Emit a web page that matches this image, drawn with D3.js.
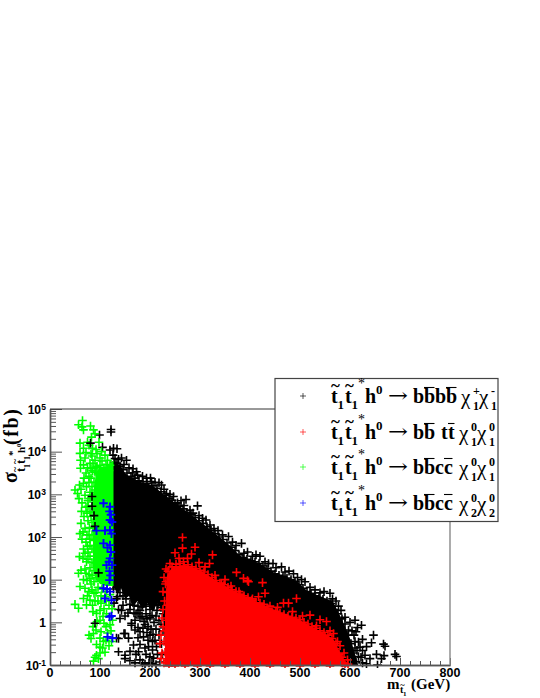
<!DOCTYPE html>
<html><head><meta charset="utf-8">
<script src="https://cdn.jsdelivr.net/npm/d3@7"></script>
<style>html,body{margin:0;background:#fff}svg{display:block}</style></head>
<body><svg id="c" width="540" height="698"></svg>
<script>
// Values: mass in GeV, sigma as log10(fb).
const xTicksMajor=[0,100,200,300,400,500,600,700,800];
const xTicksMinor=[20,40,60,80,120,140,160,180,220,240,260,280,320,340,360,380,420,440,460,480,520,540,560,580,620,640,660,680,720,740,760,780];
const yDecades=[-1,0,1,2,3,4,5];
const yMultipliers=[2,3,4,5,6,7,8,9];

// Regions too dense to separate individual marks: [mass, upper, lower]
const blackCore=[[124,3.75,0.95],[135,3.72,0.65],[142,3.66,0.8],[150,3.5,0.55],[158,3.42,0.62],[165,3.38,0.35],[175,3.32,0.5],[185,3.28,0.3],[195,3.26,0.45],[205,3.2,0.25],[215,3.12,0.45],[225,3.02,0.3],[230,2.98,-0.6],[246,2.84,-1],[280,2.54,-1],[320,2.18,-1],[360,1.8,-1],[380,1.56,-1],[420,1.38,-1],[446,1.18,-1],[494,0.96,-1],[514,0.74,-1],[566,0.48,-1],[580,0.16,-1],[594,-0.2,-1],[604,-0.5,-1],[616,-0.98,-1]];
const redCore=[[230,0.2,-1],[234,1.1,-1],[246,1.32,-1],[270,1.34,-1],[300,1.22,-1],[340,0.92,-1],[380,0.66,-1],[420,0.45,-1],[454,0.26,-1],[494,0.09,-1],[526,-0.12,-1],[566,-0.38,-1],[582,-0.75,-1],[596,-1,-1]];
const greenCore=[[86,3.0,1.3],[92,3.5,1.0],[100,3.65,0.9],[112,3.65,0.85],[127,3.8,0.85]];

const blackPoints=[[122,4.52],[122,4.46],[99,4.39],[105,4.1],[127,4.08],[120,4.04],[134,4.07],[130,3.84],[126,3.92],[137,3.82],[143,3.85],[153,3.8],[148,3.7],[158,3.62],[166,3.6],[173,3.53],[175,3.45],[165,3.5],[185,3.42],[193,3.38],[201,3.38],[203,3.3],[210,3.28],[223,3.22],[218,3.27],[228,3.12],[233,3.02],[240,3.0],[247,2.95],[255,2.8],[262,2.85],[272,2.88],[268,2.74],[280,2.63],[286,2.56],[295,2.73],[298,2.5],[305,2.44],[312,2.4],[320,2.28],[328,2.2],[336,2.15],[345,2.05],[357,2.01],[365,1.88],[372,1.8],[383,1.85],[388,1.62],[395,1.65],[405,1.55],[412,1.58],[420,1.55],[430,1.42],[437,1.38],[446,1.38],[452,1.28],[463,1.3],[470,1.18],[478,1.2],[487,1.14],[495,1.05],[503,1.0],[510,0.95],[520,0.82],[530,0.76],[540,0.69],[548,0.72],[560,0.68],[565,0.55],[577,0.38],[572,0.5],[582,0.28],[590,0.12],[597,-0.18],[600,0.0],[610,0.05],[623,-0.07],[615,-0.12],[608,-0.3],[617,-0.46],[625,-0.4],[647,-0.3],[643,-0.48],[633,-0.57],[625,-0.66],[667,-0.51],[670,-0.56],[690,-0.75],[693,-0.8],[653,-0.75],[663,-0.85],[668,-0.78],[655,-1.0],[633,-0.97],[630,-0.77],[617,-0.8],[610,-0.6],[605,-0.9],
[128,3.75],[134,3.72],[140,3.66],[146,3.58],[154,3.5],[162,3.42],[170,3.38],[178,3.32],[186,3.3],[194,3.26],[206,3.2],[214,3.14],[222,3.06],[230,2.98],[238,2.9],[244,2.86],[250,2.78],[258,2.72],[266,2.66],[274,2.58],[282,2.52],[290,2.45],[298,2.38],[306,2.32],[314,2.24],[322,2.16],[330,2.08],[338,2.0],[346,1.94],[354,1.86],[362,1.76],[370,1.68],[378,1.58],[386,1.52],[394,1.48],[402,1.44],[410,1.42],[418,1.38],[426,1.32],[434,1.26],[442,1.2],[450,1.14],[458,1.1],[466,1.08],[474,1.04],[482,1.0],[490,0.96],[498,0.88],[506,0.8],[514,0.72],[522,0.68],[530,0.62],[538,0.58],[546,0.54],[554,0.5],[562,0.44],[570,0.3],[576,0.2],[584,0.08],[590,-0.04],[596,-0.3],[604,-0.2],[612,-0.22],[602,-0.5],[610,-0.45],[620,-0.58],[606,-0.72],[614,-0.66],[622,-0.82],[612,-0.92],[625,-0.95],[640,-0.85],
[128,0.95],[133,0.82],[127,0.78],[140,0.7],[146,0.62],[135,0.6],[152,0.55],[160,0.42],[168,0.4],[176,0.38],[184,0.36],[192,0.38],[200,0.42],[208,0.4],[216,0.42],[224,0.4],[226,0.2],[133,0.55],[146,0.4],[160,0.3],[180,0.28],[200,0.3],[222,0.35],[137,0.3],[150,0.15],[172,0.2],[192,0.2],[212,0.15],[128,0.45],[140,0.09],[163,-0.02],[180,0.1],[200,0.12],[218,0.05],[170,0.05],[188,0.02],[208,0.0],[222,-0.05],[176,-0.12],[196,-0.1],[212,-0.16],[148,-0.26],[157,-0.37],[137,-0.38],[133,-0.37],[150,-0.26],[163,-0.07],[187,-0.34],[200,-0.3],[167,-0.53],[197,-0.57],[213,-0.57],[218,-0.3],[177,-0.69],[137,-0.69],[150,-0.77],[180,-0.88],[200,-0.81],[207,-0.84],[220,-0.93],[170,-0.95],[190,-0.98],[150,-0.85],[212,-0.99],[225,-0.75],[205,-0.45],[180,-0.52],[172,-0.75],[192,-0.75],[185,-0.95],[205,-0.65],[215,-0.75],[180,-0.22],[223,-0.5],[196,-0.42],
[176,0.22],[184,0.14],[194,0.08],[204,0.16],[214,0.28],[168,0.22],[156,0.22],[143,0.28],[190,-0.05],[202,-0.16],[170,-0.18],[226,-0.2],[206,-0.28],[194,-0.24],[186,-0.14],[176,-0.36],[210,-0.42],[190,-0.6],[160,-0.68],[204,-0.96],[160,-0.9],[198,-0.95]];
const blackOver=[[81,4.2],[84,2.72],[88,2.5],[90,2.25],[97,1.16],[84,2.95],[90,-0.02]];

const redPoints=[[265,1.99],[265,1.74],[290,1.76],[283,1.6],[250,1.63],[267,1.42],[258,1.5],[325,1.58],[319,1.38],[298,1.4],[275,1.5],[240,1.38],[232,1.25],[228,1.05],[231,0.9],[226,0.72],[229,0.5],[226,0.3],[224,0.1],[226,-0.1],[222,-0.3],[220,-0.5],[224,-0.72],[222,-0.85],[228,-0.95],[238,-1.02],[250,-1.02],[270,-1.02],[295,-1.02],[320,-1.02],[350,-1.02],[380,-1.02],[410,-1.02],[440,-1.02],[470,-1.02],[500,-1.02],[530,-1.02],[560,-1.02],[590,-1.02],[310,1.3],[330,1.1],[350,1.0],[373,1.17],[343,0.91],[387,1.03],[397,0.95],[362,0.85],[378,0.72],[395,0.98],[417,0.6],[425,0.93],[430,0.68],[405,0.55],[440,0.38],[455,0.35],[467,0.45],[477,0.45],[493,0.56],[485,0.25],[505,0.15],[520,0.17],[540,0.06],[553,0.02],[533,-0.08],[530,-0.22],[567,-0.26],[560,-0.2],[550,-0.32],[575,-0.45],[580,-0.55],[588,-0.72],[578,-0.75],[595,-0.88],[585,-0.95],
[236,1.2],[244,1.3],[252,1.36],[260,1.38],[268,1.32],[276,1.35],[284,1.3],[292,1.26],[300,1.22],[308,1.18],[316,1.12],[324,1.05],[332,0.98],[340,0.92],[348,0.88],[356,0.82],[364,0.76],[372,0.72],[380,0.66],[388,0.62],[396,0.58],[404,0.52],[412,0.46],[420,0.45],[428,0.42],[436,0.32],[444,0.28],[452,0.26],[460,0.22],[468,0.18],[476,0.14],[484,0.12],[492,0.1],[500,0.06],[508,0.0],[516,-0.04],[524,-0.1],[532,-0.14],[540,-0.2],[548,-0.24],[556,-0.3],[564,-0.38],[572,-0.5],[570,-0.62],[584,-0.82],[580,-0.92],[596,-0.98],[234,0.7],[235,0.4],[232,0.05],[230,-0.2],[228,-0.45],[230,-0.7],[234,-0.9],[232,0.95],[245,1.05]];

const greenPoints=[[57,4.63],[65,4.73],[67,4.51],[64,4.58],[81,4.6],[87,4.51],[83,4.34],[90,4.42],[60,4.2],[75,4.22],[67,4.08],[85,4.08],[78,4.15],[103,4.0],[98,4.22],[92,4.05],[60,3.96],[72,3.98],[82,3.95],[110,3.92],[61,3.8],[70,3.85],[80,3.73],[90,3.8],[100,3.85],[115,3.8],[67,3.69],[75,3.62],[61,3.61],[85,3.55],[72,3.5],[78,3.42],[68,3.38],[59,3.22],[67,3.26],[50,3.1],[62,3.12],[73,3.18],[55,3.02],[80,3.05],[58,2.9],[70,2.98],[64,2.8],[76,2.85],[63,2.6],[72,2.7],[80,2.6],[68,2.48],[76,2.38],[62,2.32],[70,2.2],[60,2.08],[66,2.12],[78,2.05],[64,1.95],[72,1.88],[80,1.8],[67,1.72],[76,1.65],[59,1.54],[66,1.5],[73,1.42],[57,1.15],[62,1.22],[70,1.25],[78,1.12],[67,1.0],[74,0.98],[82,0.9],[60,0.84],[70,0.8],[78,0.72],[88,0.68],[67,0.56],[80,0.52],[50,0.42],[57,0.33],[73,0.41],[85,0.4],[93,0.21],[100,0.28],[108,0.32],[112,0.5],[118,0.4],[96,0.5],[106,0.14],[86,0.25],[100,0.05],[120,-0.06],[125,0.05],[112,-0.1],[122,-0.2],[87,-0.26],[78,-0.3],[82,-0.38],[92,-0.18],[100,-0.37],[107,-0.45],[112,-0.42],[93,-0.52],[100,-0.58],[105,-0.6],[118,-0.55],[93,-0.77],[100,-0.72],[87,-0.91],[90,-0.82],[123,-0.45],
[84,3.9],[94,3.95],[104,3.78],[112,3.7],[120,3.68],[86,3.72],[94,3.66],[108,3.62],[118,3.56],[82,3.6],[90,3.52],[82,3.38],[88,3.28],[84,3.18],[90,3.1],[78,3.28],[84,2.98],[88,2.86],[80,2.9],[85,2.74],[76,2.72],[82,2.48],[86,2.58],[74,2.56],[84,2.34],[79,2.22],[86,2.2],[74,2.05],[84,2.06],[80,1.95],[88,1.92],[75,1.78],[84,1.72],[70,1.62],[80,1.55],[88,1.55],[76,1.48],[84,1.4],[92,1.4],[80,1.28],[88,1.22],[72,1.15],[84,1.1],[92,1.05],[80,1.02],[88,0.95],[96,0.82],[104,0.78],[112,0.72],[120,0.65],[84,0.76],[92,0.7],[102,0.62],[110,0.6],[75,0.62],[90,0.5],[102,0.45],[124,0.32],[113,0.2],[94,0.02],[108,-0.02],[102,-0.22],[115,-0.25],[86,-0.1],[110,-0.7],[97,-0.85],[92,3.62],[100,3.68],[110,3.48],[96,3.48]];

const bluePoints=[[120,2.71],[107,2.79],[120,2.4],[124,2.35],[122,2.52],[119,2.6],[93,2.15],[110,2.15],[120,2.16],[123,2.08],[107,1.85],[120,1.81],[115,1.75],[122,1.65],[120,1.5],[113,1.34],[124,1.34],[118,1.42],[119,1.2],[121,1.1],[119,0.99],[107,0.8],[120,0.72],[114,0.78],[110,0.56],[123,0.52],[119,0.13],[123,0.15],[115,-0.34],[125,-0.37]];

const svg=d3.select('#c');
const x=d3.scaleLinear().domain([0,800]).range([50,450]);
const y=d3.scaleLog().domain([0.1,1e5]).range([665,409]);
const Y=v=>y(Math.pow(10,v));

svg.append('defs').append('clipPath').attr('id','plot').append('rect').attr('x',50).attr('y',409).attr('width',400).attr('height',259);

const plot=svg.append('g').attr('clip-path','url(#plot)');
const area=d3.area().x(d=>x(d[0])).y0(d=>Y(d[2])).y1(d=>Y(d[1]));
const cross='M-4.3,0H4.3M0,-4.3V4.3';
function core(data,col){plot.append('path').attr('d',area(data)).attr('fill',col);}
function marks(data,col,w=1.6){
  plot.append('g').selectAll('path').data(data).join('path')
    .attr('d',cross).attr('stroke',col).attr('stroke-width',w).attr('fill','none')
    .attr('transform',d=>`translate(${x(d[0])},${Y(d[1])})`);
}
core(blackCore,'#000');marks(blackPoints,'#000');
core(greenCore,'#00ff00');marks(greenPoints,'#00ff00');
marks(blackOver,'#000');
core(redCore,'#ff0000');marks(redPoints,'#ff0000');
marks(bluePoints,'#0000ff',1.9);

// axes
const axCol='#555';
function styleAxis(g){g.select('.domain').attr('stroke',axCol).attr('stroke-width',1.4);g.selectAll('.tick line').attr('stroke',axCol).attr('stroke-width',1);g.selectAll('text').remove();}
svg.append('g').attr('transform','translate(0,665)').call(d3.axisBottom(x).tickValues(xTicksMajor).tickSize(-7).tickSizeOuter(0)).call(styleAxis);
svg.append('g').attr('transform','translate(0,665)').call(d3.axisBottom(x).tickValues(xTicksMinor).tickSize(-4).tickSizeOuter(0)).call(styleAxis);
const yMajor=yDecades.map(d=>Math.pow(10,d));
const yMinor=yDecades.slice(0,-1).flatMap(d=>yMultipliers.map(m=>m*Math.pow(10,d)));
svg.append('g').attr('transform','translate(50,0)').call(d3.axisLeft(y).tickValues(yMajor).tickSize(-12).tickSizeOuter(0)).call(styleAxis);
svg.append('g').attr('transform','translate(50,0)').call(d3.axisLeft(y).tickValues(yMinor).tickSize(-6).tickSizeOuter(0)).call(styleAxis);
svg.append('line').attr('x1',50).attr('x2',450).attr('y1',409).attr('y2',409).attr('stroke','#333').attr('stroke-width',1);
svg.append('line').attr('x1',450).attr('x2',450).attr('y1',409).attr('y2',665).attr('stroke','#888').attr('stroke-width',1.4);

const sans='"Liberation Sans",Arial,sans-serif', serif='"Liberation Serif","Times New Roman",serif';
function T(p,s,px,py,size,opt={}){
  return p.append('text').attr('x',px).attr('y',py).text(s)
    .attr('font-family',opt.family||serif).attr('font-weight',opt.weight||'bold')
    .attr('font-size',size).attr('text-anchor',opt.anchor||'start').attr('fill','#000');
}
// tick labels
xTicksMajor.forEach(v=>T(svg,String(v),x(v),677,12.5,{family:sans,anchor:'middle'}));
yDecades.forEach(d=>{
  const py=Y(d)+4.5;
  if(d===0) T(svg,'1',46,py,12,{family:sans,anchor:'end'});
  else if(d===1) T(svg,'10',46,py,12,{family:sans,anchor:'end'});
  else{
    T(svg,String(d),46,py-4,8.5,{family:sans,anchor:'end'});
    T(svg,'10',d<0?39:41,py,12,{family:sans,anchor:'end'});
  }
});

// y title
const yt=svg.append('g').attr('transform','translate(17,0) rotate(-90)');
T(yt,'σ',-483,0,20);
T(yt,'t',-472,8,13);T(yt,'~',-472,1,10);T(yt,'1',-468,13,8);
T(yt,'t',-464,8,13);T(yt,'~',-464,1,10);T(yt,'1',-460,13,8);
T(yt,'*',-456,-1,11);T(yt,'h',-453,8,11);T(yt,'0',-447,4,7);
T(yt,'(fb)',-445,1,20).attr('textLength',36).attr('lengthAdjust','spacing');

// x title
T(svg,'m',387,689,15);
T(svg,'t',400,693,10);T(svg,'~',400,688,9);T(svg,'1',403,696,7);
T(svg,'(GeV)',411,689,15);

// legend
svg.append('rect').attr('x',275).attr('y',378.5).attr('width',223).attr('height',143)
  .attr('fill','#fff').attr('stroke','#444').attr('stroke-width',1.2);
const legendColors=['#000000','#ff0000','#00ff00','#0000ff'];
const legendFinal=[
 {bars:['b','b̄','b','b̄'],chi:[461,479],sup:['+','-'],sub:'1'},
 {bars:['b','b̄',' ','t','t̄'],chi:[459,477],sup:['0','0'],sub:'1'},
 {bars:['b','b̄','c','c̄'],chi:[459,477],sup:['0','0'],sub:'1'},
 {bars:['b','b̄','c','c̄'],chi:[459,477],sup:['0','0'],sub:'2'}];
const rowBase=[403,439,474,510];
const widths={b:11,'b̄':11,c:9,'c̄':9,t:7,'t̄':7,' ':6};
legendFinal.forEach((r,i)=>{
  const b=rowBase[i];
  const g=svg.append('g');
  g.append('path').attr('d','M-3,0H3M0,-3V3').attr('transform',`translate(303,${b-7})`)
    .attr('stroke',legendColors[i]).attr('stroke-width',1).attr('opacity',0.65).attr('fill','none');
  T(g,'t',331,b,20);T(g,'~',331,b-12,17);T(g,'1',337.5,b+6,13);
  T(g,'t',345,b,20);T(g,'~',345,b-12,17);T(g,'1',351.5,b+6,13);
  T(g,'*',358,b-15,14,{weight:'normal'});
  T(g,'h',365,b,20);T(g,'0',376,b-9,13);
  T(g,'→',388,b-1,20,{family:'"DejaVu Serif",serif',weight:'normal'}).attr('textLength',20).attr('lengthAdjust','spacingAndGlyphs');
  let cx=413;
  r.bars.forEach(ch=>{
    const base=ch[0];
    if(base!==' ') T(g,base,cx,b,20);
    if(ch.length>1) g.append('line').attr('x1',cx).attr('x2',cx+widths[ch]-0.5).attr('y1',b-15.5).attr('y2',b-15.5).attr('stroke','#000').attr('stroke-width',1.1);
    cx+=widths[ch];
  });
  r.chi.forEach((c,k)=>{
    T(g,'χ',c,b+1,21,{weight:'normal'});
    T(g,r.sup[k],c+12,b-8,12);
    T(g,r.sub,c+12,b+7,12);
  });
});
</script></body></html>
